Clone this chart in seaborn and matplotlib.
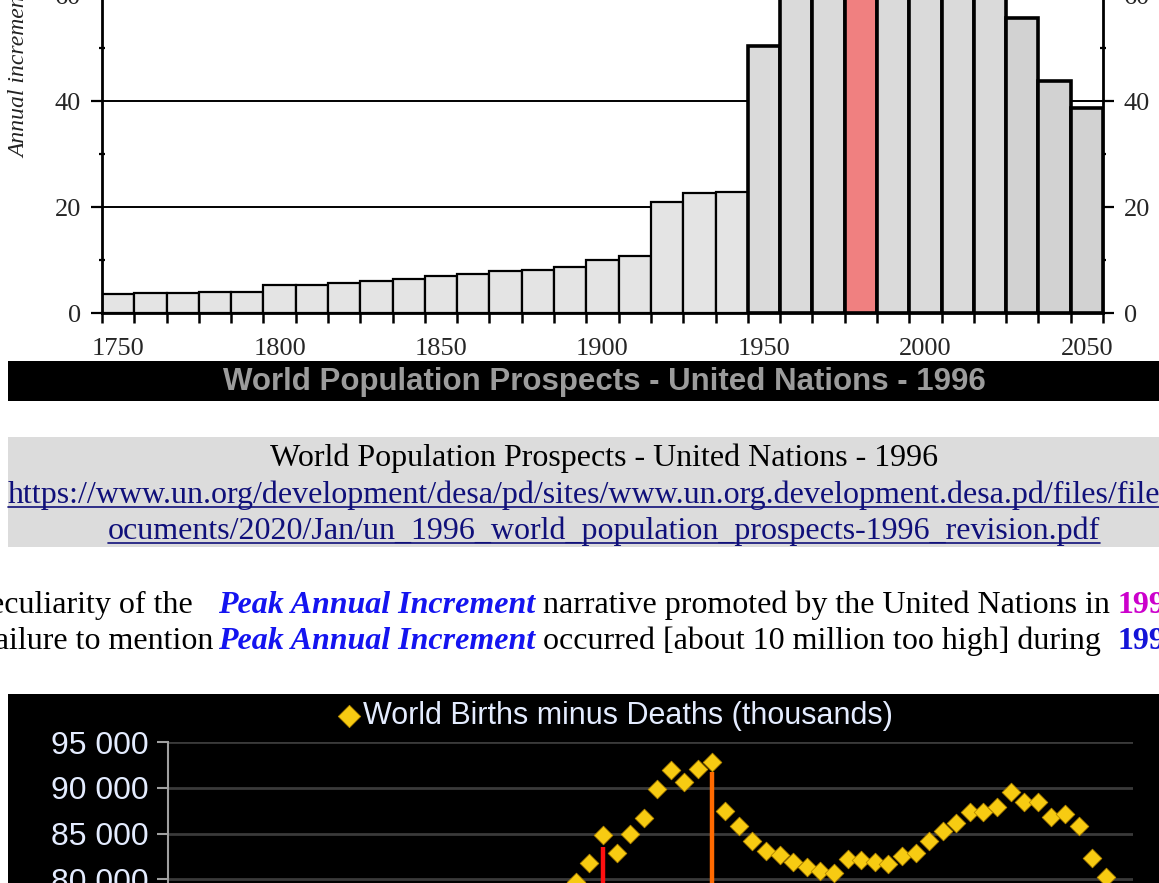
import matplotlib
matplotlib.use('Agg')
import matplotlib.pyplot as plt
import matplotlib.patches as mpatches
import matplotlib.lines as mlines
from matplotlib.ticker import FuncFormatter, MultipleLocator
import seaborn as sns

# UN 1996: annual increment of world population (millions), one bar per decade
decades = list(range(1750, 2051, 10))
increments = [3.5, 3.8, 3.8, 4.0, 4.0, 5.2, 5.3, 5.7, 6.1, 6.4,
              7.0, 7.4, 7.9, 8.2, 8.7, 10.0, 10.8, 20.9, 22.6, 22.8,
              50.4, 65.0, 76.0, 86.0, 82.0, 79.0, 72.0, 64.0, 55.7, 43.8, 38.7]
peak_decade = 1980
top_yticks = [0, 20, 40, 60]
top_xticks = [1750, 1800, 1850, 1900, 1950, 2000, 2050]

# World births minus deaths (thousands), one point per year
years = list(range(1979, 2022))
births_minus_deaths = [78300, 79720, 81790, 84900, 82880, 85010, 86700, 89870, 91940, 90630,
                       92050, 92820, 87450, 85810, 84170, 83060, 82640, 81880, 81330, 80900,
                       80680, 82200, 82100, 81880, 81660, 82530, 82860, 84170, 85260, 86160,
                       87340, 87340, 87880, 89500, 88430, 88500, 86810, 87120, 85810, 82330,
                       80240, 72800, 66500]
marker_years = [1982, 1990]
marker_values = [83540, 91720]
marker_colors = ['#ff1010', '#ff6a00']
bottom_yticks = [80000, 85000, 90000, 95000]

caption = 'World Population Prospects - United Nations - 1996'
url_1 = 'https://www.un.org/development/desa/pd/sites/www.un.org.development.desa.pd/files/files/d'
url_2 = 'ocuments/2020/Jan/un_1996_world_population_prospects-1996_revision.pdf'

W, H = 1159, 883
PX_PER_5000 = 45.83


def rect(x0, y0, x1, y1):
    # pixel box (top-left origin) -> figure fraction
    return [x0 / W, 1 - y1 / H, (x1 - x0) / W, (y1 - y0) / H]


sns.set_theme(style='white')
plt.rcParams['font.family'] = ['Liberation Serif', 'DejaVu Serif']

fig = plt.figure(figsize=(W / 100, H / 100), dpi=100)
fig.patch.set_facecolor('white')

# tla: czarny pasek pod wykresem, szare pole podpisu, czarne tlo dolnego wykresu
for box, color in [((8, 361, 1159, 401), 'black'),
                   ((8, 437, 1159, 547), '#dcdcdc'),
                   ((8, 694, 1159, 900), 'black')]:
    x0, y0, x1, y1 = box
    fig.add_artist(mpatches.Rectangle((x0 / W, 1 - y1 / H), (x1 - x0) / W, (y1 - y0) / H,
                                      transform=fig.transFigure, facecolor=color,
                                      edgecolor='none', zorder=-5))

# ---- Wykres 1: slupki UN 1996 ----
ax1 = fig.add_axes(rect(102, -5, 1103, 313))
ax1.set_facecolor('white')
sns.barplot(x=decades, y=increments, native_scale=True, width=1.0,
            color='#e4e4e4', saturation=1, ax=ax1, zorder=2)
for year, patch in zip(decades, ax1.patches):
    patch.set_edgecolor('black')
    patch.set_linewidth(1.6 if year < 1950 else 2.6)
    if year >= 2030:
        patch.set_facecolor('#d2d2d2')
    elif year >= 1950:
        patch.set_facecolor('#dadada')
    if year == peak_decade:
        patch.set_facecolor('#f08080')

ax1.set_xlim(1745, 2055)
ax1.set_ylim(0, 60)
ax1.set_yticks(top_yticks)
ax1.yaxis.set_minor_locator(MultipleLocator(10))
ax1.set_xticks(top_xticks)
ax1.set_xticks([d - 5 for d in decades] + [2055], minor=True)
ax1.grid(axis='y', color='black', linewidth=1.4, zorder=1)
ax1.set_axisbelow(True)
for side in ['left', 'right', 'bottom']:
    ax1.spines[side].set_color('black')
    ax1.spines[side].set_linewidth(2)
ax1.spines['top'].set_visible(False)
ax1.tick_params(axis='y', which='major', left=True, right=True, labelright=True,
                direction='out', length=8, width=1.6, color='black', labelsize=19, pad=7)
ax1.tick_params(axis='y', which='minor', left=True, right=True,
                direction='inout', length=5, width=1.6, color='black')
ax1.tick_params(axis='x', which='major', length=0, labelsize=19, pad=18)
ax1.tick_params(axis='x', which='minor', bottom=True, direction='out',
                length=7, width=1.8, color='black')
ax1.set_xlabel('')
ax1.set_ylabel('')
fig.text(20 / W, 1 - 158 / H, 'Annual increment (millions)', rotation=90,
         ha='center', va='bottom', style='italic', fontsize=17, color='#222222')

fig.text(604 / W, 1 - 382 / H, caption, ha='center', va='center',
         family='Liberation Sans', weight='bold', fontsize=22.5, color='#9c9c9c')

# ---- podpis i adres ----
renderer = fig.canvas.get_renderer()
fig.text(604 / W, 1 - 466 / H, caption, ha='center', va='baseline', fontsize=23, color='black')
for txt, x, ha, y in [(url_1, 8, 'left', 503), (url_2, 604, 'center', 539)]:
    t = fig.text(x / W, 1 - y / H, txt, ha=ha, va='baseline', fontsize=23, color='#10107a')
    bb = t.get_window_extent(renderer)
    fig.add_artist(mlines.Line2D([bb.x0 / W, bb.x1 / W], [1 - (y + 4) / H] * 2,
                                 transform=fig.transFigure, color='#10107a', linewidth=1.2))

# ---- narracja ----
regular = dict(fontsize=23, color='black')
peak_style = dict(fontsize=23, color='#1414f0', weight='bold', style='italic')
lines = [(613, 193, 'peculiarity of the', ' narrative promoted by the United Nations in ',
          '1996', '#cc00cc'),
         (649, 213, 'failure to mention', ' occurred [about 10 million too high] during  ',
          '1990', '#1414d8')]
for y, lead_end, lead, rest, year_txt, year_color in lines:
    fig.text(lead_end / W, 1 - y / H, lead, ha='right', va='baseline', **regular)
    t = fig.text(218 / W, 1 - y / H, 'Peak Annual Increment', ha='left', va='baseline', **peak_style)
    x = t.get_window_extent(renderer).x1
    t = fig.text(x / W, 1 - y / H, rest, ha='left', va='baseline', **regular)
    x = t.get_window_extent(renderer).x1
    fig.text(x / W, 1 - y / H, year_txt, ha='left', va='baseline', fontsize=23,
             weight='bold', color=year_color)

# ---- Wykres 2: urodzenia minus zgony ----
ax2_height = 11 * PX_PER_5000
ax2 = fig.add_axes(rect(168, 742, 1133, 742 + ax2_height))
ax2.set_facecolor('black')
ax2.vlines(marker_years, 40000, marker_values, colors=marker_colors, linewidth=3.2, zorder=2)
sns.scatterplot(x=years, y=births_minus_deaths, marker='D', s=90, color='#f7cb12',
                edgecolor='#b88a00', linewidth=0.6, zorder=3, ax=ax2,
                label='World Births minus Deaths (thousands)')
ax2.set_xlim(1950, 2021)
ax2.set_ylim(40000, 95000)
ax2.set_yticks(bottom_yticks)
ax2.yaxis.set_major_formatter(FuncFormatter(lambda v, p: f'{v:,.0f}'.replace(',', ' ')))
ax2.set_xticks([])
ax2.grid(axis='y', color='#3a3a3a', linewidth=2)
ax2.set_axisbelow(True)
for side in ['top', 'right', 'bottom']:
    ax2.spines[side].set_visible(False)
ax2.spines['left'].set_color('#a0a0a0')
ax2.spines['left'].set_linewidth(1.5)
ax2.tick_params(axis='y', left=True, direction='out', length=8, width=1.5,
                color='#a0a0a0', labelsize=23, labelcolor='#e4ecff', pad=6)
for lab in ax2.get_yticklabels():
    lab.set_family('Liberation Sans')
leg = ax2.legend(loc='center', frameon=False, handlelength=0.6, handletextpad=0.15,
                 markerscale=1.2, borderpad=0, prop={'family': 'Liberation Sans', 'size': 22},
                 bbox_to_anchor=((616 - 168) / 965, 1 + (742 - 716) / ax2_height),
                 bbox_transform=ax2.transAxes)
for t in leg.get_texts():
    t.set_color('#e4ecff')

fig.savefig('out.png', dpi=100)
